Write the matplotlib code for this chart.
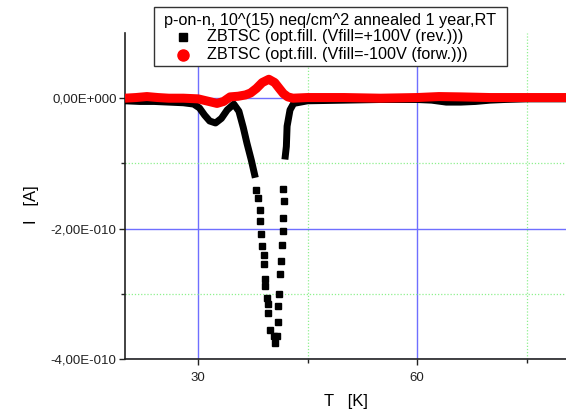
import numpy as np
import matplotlib
matplotlib.use("Agg")
import matplotlib.pyplot as plt
from matplotlib.ticker import FuncFormatter, FixedLocator
from matplotlib.lines import Line2D
from matplotlib.patches import Rectangle

plt.rcParams['font.family'] = ['Liberation Sans', 'DejaVu Sans']

# ---- data (I in units of 1e-10 A) ----
# black series: continuous left part
black_T_left = [20.0, 22.0, 24.0, 26.0, 28.0, 29.4, 30.2, 30.9, 31.6, 32.4, 33.2, 34.0, 34.9,
                35.6, 36.2, 36.7, 37.3, 37.85]
black_I_left = [-0.04, -0.05, -0.05, -0.06, -0.07, -0.09, -0.15, -0.26, -0.35, -0.38, -0.31, -0.18, -0.09,
                -0.2, -0.45, -0.69, -0.95, -1.22]
# black series: isolated squares in the steep peak
black_T_peak = [38.0, 38.2, 38.45, 38.5, 38.6, 38.8, 39.05, 39.05, 39.2, 39.2, 39.45, 39.65, 39.65,
                39.9, 40.35, 40.6,
                40.8, 41.0, 41.0, 41.15, 41.25, 41.4, 41.5, 41.6, 41.65, 41.75, 41.6]
black_I_peak = [-1.41, -1.53, -1.72, -1.88, -2.09, -2.27, -2.40, -2.55, -2.78, -2.88, -3.06, -3.16, -3.29,
                -3.55, -3.65, -3.75,
                -3.65, -3.44, -3.19, -3.0, -2.70, -2.5, -2.25, -2.03, -1.84, -1.57, -1.39]
# black series: continuous right part
black_T_right = [41.9, 42.1, 42.2, 42.6, 43.1, 45.0, 50.0, 55.0, 60.0, 62.0, 64.0, 66.0, 68.0, 70.0,
                 72.0, 75.0, 78.0, 80.4]
black_I_right = [-0.94, -0.74, -0.43, -0.18, -0.08, -0.04, -0.03, -0.02, -0.02, -0.03, -0.06, -0.06,
                 -0.05, -0.03, -0.02, -0.01, -0.01, -0.01]

# red series
red_T = [20.0, 21.5, 23.0, 24.5, 26.0, 28.0, 30.0, 31.5, 32.6, 33.5, 34.4, 35.5, 36.5, 37.2, 38.0,
         38.8, 39.7, 40.5, 41.2, 41.7, 42.3, 43.0, 45.0, 50.0, 55.0, 60.0, 63.0, 66.0, 70.0, 75.0, 80.4]
red_I = [0.0, 0.01, 0.025, 0.01, 0.0, 0.0, -0.01, -0.05, -0.08, -0.05, 0.02, 0.03, 0.05, 0.08, 0.15,
         0.24, 0.29, 0.24, 0.14, 0.07, 0.02, 0.0, 0.01, 0.01, 0.0, 0.01, 0.025, 0.02, 0.01, 0.01, 0.01]

x_ticks = [30, 60]
x_minor = [45, 75]
y_ticks = [-4e-10, -2e-10, 0.0]
y_minor = [-3e-10, -1e-10]

legend_title = "p-on-n, 10^(15) neq/cm^2 annealed 1 year,RT"
label_black = "ZBTSC (opt.fill. (Vfill=+100V (rev.)))"
label_red = "ZBTSC (opt.fill. (Vfill=-100V (forw.)))"

scale = 1e-10
W, H = 566, 411

fig = plt.figure(figsize=(W / 100, H / 100), dpi=100)
ax = fig.add_axes([125 / W, 1 - 359 / H, (W - 125) / W, (359 - 33) / H])

ax.set_xlim(20, 80.4)
ax.set_ylim(-4e-10, 1e-10)
ax.xaxis.set_major_locator(FixedLocator(x_ticks))
ax.xaxis.set_minor_locator(FixedLocator(x_minor))
ax.yaxis.set_major_locator(FixedLocator(y_ticks))
ax.yaxis.set_minor_locator(FixedLocator(y_minor))
ax.grid(which='major', color='#6f6fff', linewidth=1.0, linestyle='-')
ax.grid(which='minor', color='#8ef08e', linewidth=0.9, linestyle=(0, (1, 1.5)))
ax.set_axisbelow(True)

# black series
ax.plot(np.array(black_T_left), np.array(black_I_left) * scale, color='black', lw=5.0,
        solid_capstyle='butt', solid_joinstyle='round', zorder=3)
ax.plot(np.array(black_T_right), np.array(black_I_right) * scale, color='black', lw=5.0,
        solid_capstyle='butt', solid_joinstyle='round', zorder=3)
ax.plot(np.array(black_T_peak), np.array(black_I_peak) * scale, linestyle='none', marker='s',
        ms=4.6, color='black', zorder=3)

# red series
ax.plot(np.array(red_T), np.array(red_I) * scale, color='#ff0000', lw=6.5,
        solid_capstyle='butt', solid_joinstyle='round', zorder=4)

# axes styling
for s in ['top', 'right']:
    ax.spines[s].set_visible(False)
for s in ['left', 'bottom']:
    ax.spines[s].set_color('#222222')
    ax.spines[s].set_linewidth(1.2)
ax.tick_params(which='major', direction='out', length=4, width=1.0, labelsize=9.5, colors='#222222')
ax.tick_params(which='minor', direction='out', length=3, width=1.0, colors='#222222')
ax.tick_params(axis='x', which='major', pad=5)
ax.tick_params(axis='y', which='major', pad=2)


def yfmt(v, pos):
    if abs(v) < 1e-15:
        return "0,00E+000"
    m = v / 1e-10
    return f"{m:.2f}".replace('.', ',') + "E-010"


ax.yaxis.set_major_formatter(FuncFormatter(yfmt))
ax.set_xlabel("T   [K]", fontsize=12)
ax.set_ylabel("I   [A]", fontsize=12)
ax.xaxis.set_label_coords(0.5, -(394 - 359) / 326)
ax.yaxis.set_label_coords(-0.195, 0.472)

# manual legend box (figure pixel coordinates from top-left)
def fx(px):
    return px / W


def fy(py):
    return 1 - py / H


fig.patches.append(Rectangle((fx(154), fy(66)), fx(507) - fx(154), fy(7) - fy(66),
                             transform=fig.transFigure, facecolor='white',
                             edgecolor='#333333', linewidth=1.0, zorder=5))
fig.text(fx(330.5), fy(20), legend_title, ha='center', va='center', fontsize=11.7, zorder=6)
fig.add_artist(Line2D([fx(183)], [fy(37)], linestyle='none', marker='s', ms=6,
                      color='black', transform=fig.transFigure, zorder=6))
fig.add_artist(Line2D([fx(183)], [fy(55)], linestyle='none', marker='o', ms=8,
                      color='#ff0000', transform=fig.transFigure, zorder=6))
fig.text(fx(207), fy(37), label_black, ha='left', va='center', fontsize=11.7, zorder=6)
fig.text(fx(207), fy(55), label_red, ha='left', va='center', fontsize=11.7, zorder=6)

fig.savefig("out.png", dpi=100)
